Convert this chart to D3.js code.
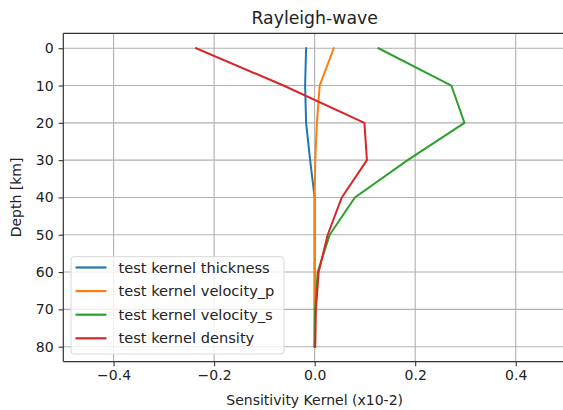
<!DOCTYPE html>
<html>
<head>
<meta charset="utf-8">
<script src="https://cdn.jsdelivr.net/npm/d3@7"></script>
<style>
  body { margin: 0; background: #fff; }
  svg { display: block; font-family: "DejaVu Sans", sans-serif; }
</style>
</head>
<body>
<svg id="chart" width="563" height="410"></svg>
<script>
// Depth samples (km) shared by all kernels
const depths = [0, 10, 20, 30, 40, 50, 60, 70, 80];

// Sensitivity kernel values (x10-2) at each depth
const kernelThickness = [-0.017, -0.019, -0.017, -0.009, 0.000, 0.000, 0.000, 0.000, 0.000];
const kernelVelocityP = [0.038, 0.010, 0.0045, 0.0012, 0.000, 0.000, 0.000, 0.000, 0.000];
const kernelVelocityS = [0.127, 0.272, 0.298, 0.185, 0.080, 0.030, 0.006, 0.001, 0.000];
const kernelDensity   = [-0.236, -0.062, 0.099, 0.104, 0.054, 0.026, 0.008, 0.0025, 0.0012];

const seriesNames = ["test kernel thickness", "test kernel velocity_p", "test kernel velocity_s", "test kernel density"];
const seriesColors = ["#1f77b4", "#ff7f0e", "#2ca02c", "#d62728"];

const xTicks = [-0.4, -0.2, 0.0, 0.2, 0.4];
const yTicks = [0, 10, 20, 30, 40, 50, 60, 70, 80];

const titleText = "Rayleigh-wave";
const xLabelText = "Sensitivity Kernel (x10-2)";
const yLabelText = "Depth [km]";

const series = [kernelThickness, kernelVelocityP, kernelVelocityS, kernelDensity].map((vals, i) => ({
  name: seriesNames[i],
  color: seriesColors[i],
  points: depths.map((d, j) => ({ depth: d, value: vals[j] }))
}));

const svg = d3.select("#chart");
const margin = { left: 63.3, top: 33.3, right: 566, bottom: 361.6 };

const x = d3.scaleLinear().domain([-0.5, 0.5]).range([margin.left, margin.right]);
const y = d3.scaleLinear().domain([-4, 84]).range([margin.top, margin.bottom]);

const fmtX = v => (v < 0 ? "\u2212" : "") + Math.abs(v).toFixed(1);

// grid
const grid = svg.append("g");
grid.selectAll("line.gx").data(xTicks).join("line")
  .attr("x1", d => x(d)).attr("x2", d => x(d))
  .attr("y1", margin.top).attr("y2", margin.bottom)
  .attr("stroke", "#b0b0b0").attr("stroke-width", 1.1);
grid.selectAll("line.gy").data(yTicks).join("line")
  .attr("x1", margin.left).attr("x2", margin.right)
  .attr("y1", d => y(d)).attr("y2", d => y(d))
  .attr("stroke", "#b0b0b0").attr("stroke-width", 1.1);

// kernel lines
const line = d3.line().x(d => x(d.value)).y(d => y(d.depth));
svg.append("g").selectAll("path").data(series).join("path")
  .attr("d", d => line(d.points))
  .attr("fill", "none")
  .attr("stroke", d => d.color)
  .attr("stroke-width", 2)
  .attr("stroke-linejoin", "round")
  .attr("stroke-linecap", "square");

// axes
const xAxis = d3.axisBottom(x).tickValues(xTicks).tickFormat(fmtX).tickSize(4.7).tickPadding(4);
const yAxis = d3.axisLeft(y).tickValues(yTicks).tickSize(4.7).tickPadding(5);

const gx = svg.append("g").attr("transform", `translate(0,${margin.bottom})`).call(xAxis);
const gy = svg.append("g").attr("transform", `translate(${margin.left},0)`).call(yAxis);
[gx, gy].forEach(g => {
  g.select(".domain").remove();
  g.selectAll(".tick line").attr("stroke", "#333").attr("stroke-width", 1.1);
  g.selectAll(".tick text").attr("fill", "#222").style("font-size", "14px")
    .style("font-family", "'DejaVu Sans', sans-serif");
});

// spines: left, top, bottom (right lies beyond the frame)
const spines = svg.append("g").attr("stroke", "#333").attr("stroke-width", 1.2).attr("fill", "none");
spines.append("line").attr("x1", margin.left).attr("x2", margin.left).attr("y1", margin.top).attr("y2", margin.bottom);
spines.append("line").attr("x1", margin.left).attr("x2", margin.right).attr("y1", margin.top).attr("y2", margin.top);
spines.append("line").attr("x1", margin.left).attr("x2", margin.right).attr("y1", margin.bottom).attr("y2", margin.bottom);
spines.append("line").attr("x1", margin.right).attr("x2", margin.right).attr("y1", margin.top).attr("y2", margin.bottom);

// title and labels
svg.append("text").attr("x", (margin.left + margin.right) / 2).attr("y", 24)
  .attr("text-anchor", "middle").style("font-size", "17.3px").attr("fill", "#222").text(titleText);
svg.append("text").attr("x", (margin.left + margin.right) / 2).attr("y", 405)
  .attr("text-anchor", "middle").style("font-size", "14px").attr("fill", "#222").text(xLabelText);
svg.append("text").attr("transform", `translate(21,${(margin.top + margin.bottom) / 2}) rotate(-90)`)
  .attr("text-anchor", "middle").style("font-size", "14px").attr("fill", "#222").text(yLabelText);

// legend
const legend = svg.append("g");
legend.append("rect").attr("x", 71).attr("y", 256.7).attr("width", 213).attr("height", 97.3)
  .attr("rx", 3).attr("fill", "rgba(255,255,255,0.8)").attr("stroke", "#d8d8d8").attr("stroke-width", 1);
const rowY = d3.scaleLinear().domain([0, 3]).range([267.5, 338.3]);
const items = legend.selectAll("g.item").data(series).join("g")
  .attr("transform", (d, i) => `translate(0,${rowY(i)})`);
items.append("line").attr("x1", 75.5).attr("x2", 106.5).attr("y1", 0).attr("y2", 0)
  .attr("stroke", d => d.color).attr("stroke-width", 2.2);
items.append("text").attr("x", 118.5).attr("y", 5).style("font-size", "14.6px").attr("fill", "#222")
  .text(d => d.name);
</script>
</body>
</html>
